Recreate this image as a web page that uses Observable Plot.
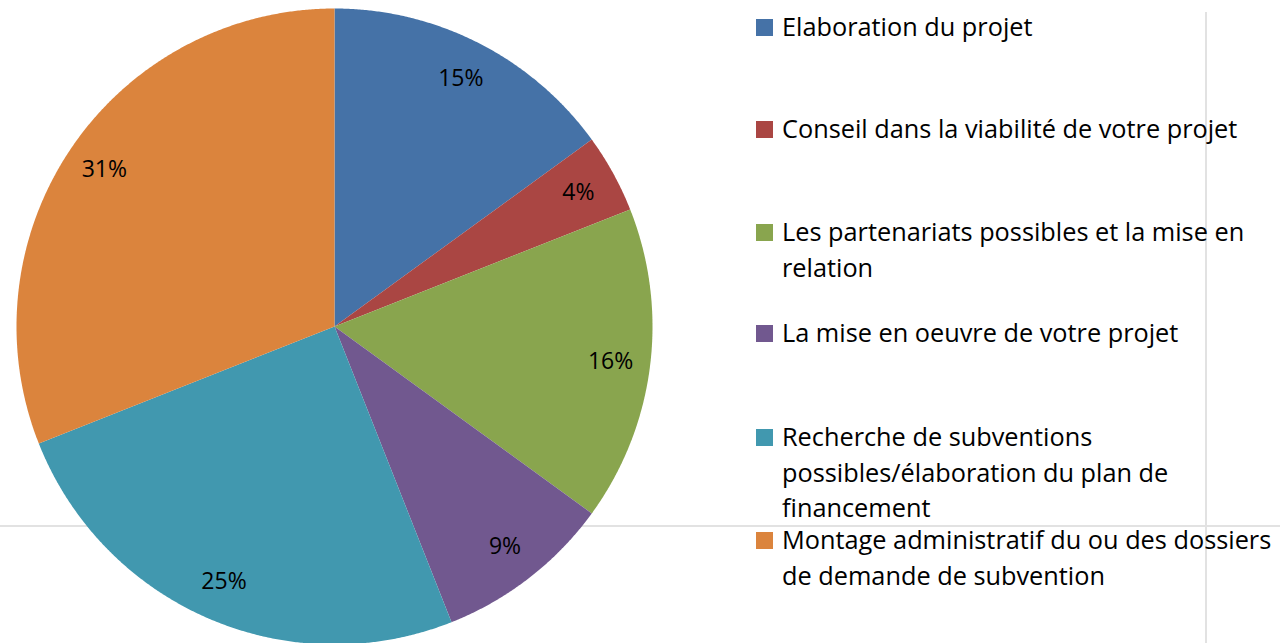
<!DOCTYPE html>
<html>
<head>
<meta charset="utf-8">
<script src="https://cdn.jsdelivr.net/npm/d3@7"></script>
<script src="https://cdn.jsdelivr.net/npm/@observablehq/plot@0.6"></script>
<style>
  html, body { margin: 0; padding: 0; background: #fff; }
  #wrap { position: relative; width: 1280px; height: 643px; overflow: hidden; font-family: "Open Sans", Lato, sans-serif; font-variant-ligatures: none; }
  .hline { position: absolute; left: 0; top: 525px; width: 1280px; height: 2px; background: #e2e2e2; }
  .vline { position: absolute; left: 1205px; top: 12px; width: 2px; height: 640px; background: #e2e2e2; }
  #chart { position: absolute; left: 0; top: 0; }
  .item { position: absolute; left: 756px; }
  .sw { position: absolute; left: 0; width: 17px; height: 17px; }
  .lab { position: absolute; left: 26px; width: 540px; font-size: 25.3px; line-height: 35.5px; color: #000; white-space: nowrap; }
</style>
</head>
<body>
<div id="wrap">
  <div class="hline"></div>
  <div class="vline"></div>
  <div id="chart"></div>
  <div id="legend"></div>
</div>
<script>
const categories = [
  "Elaboration du projet",
  "Conseil dans la viabilité de votre projet",
  "Les partenariats possibles et la mise en relation",
  "La mise en oeuvre de votre projet",
  "Recherche de subventions possibles/élaboration du plan de financement",
  "Montage administratif du ou des dossiers de demande de subvention"
];
const values = [15, 4, 16, 9, 25, 31];
const colors = ["#4572A7", "#AA4643", "#89A54E", "#71588F", "#4198AF", "#DB843D"];
const legendLines = [
  ["Elaboration du projet"],
  ["Conseil dans la viabilité de votre projet"],
  ["Les partenariats possibles et la mise en", "relation"],
  ["La mise en oeuvre de votre projet"],
  ["Recherche de subventions", "possibles/élaboration du plan de", "financement"],
  ["Montage administratif du ou des dossiers", "de demande de subvention"]
];
const legendTops = [27, 129, 232, 333, 437, 540];

// layout
const W = 1280, H = 643, cx = 334, cy = 326, R = 318;

const arcs = d3.pie().sort(null).value(d => d.value)(
  categories.map((c, i) => ({category: c, value: values[i]}))
);

const polyPts = [];
arcs.forEach(a => {
  const n = Math.max(8, Math.ceil((a.endAngle - a.startAngle) / 0.005));
  polyPts.push({category: a.data.category, x: 0, y: 0});
  for (let k = 0; k <= n; k++) {
    const t = a.startAngle + (a.endAngle - a.startAngle) * k / n;
    polyPts.push({category: a.data.category, x: Math.sin(t), y: Math.cos(t)});
  }
});

const labelR = 0.875;
const labels = arcs.map(a => {
  const m = (a.startAngle + a.endAngle) / 2;
  return {x: labelR * Math.sin(m), y: labelR * Math.cos(m), text: a.data.value + "%"};
});

const plot = Plot.plot({
  width: W, height: H,
  margin: 0,
  style: {background: "transparent", overflow: "visible"},
  x: {domain: [-cx / R, (W - cx) / R], range: [0, W], axis: null},
  y: {domain: [cy / R, (cy - H) / R], range: [0, H], axis: null},
  color: {domain: categories, range: colors},
  marks: [
    Plot.line(polyPts, {x: "x", y: "y", z: "category", fill: "category", stroke: "none", curve: "linear"}),
    Plot.text(labels, {x: "x", y: "y", text: "text", fontSize: 23, fill: "#000", fontFamily: "'Open Sans', Lato, sans-serif"})
  ]
});
document.getElementById("chart").appendChild(plot);

const leg = document.getElementById("legend");
categories.forEach((c, i) => {
  const item = document.createElement("div");
  item.className = "item";
  item.style.top = legendTops[i] + "px";
  const sw = document.createElement("div");
  sw.className = "sw";
  sw.style.background = colors[i];
  sw.style.top = "-8.5px";
  item.appendChild(sw);
  const lab = document.createElement("div");
  lab.className = "lab";
  lab.style.top = "-17.75px";
  lab.innerHTML = legendLines[i].join("<br>");
  item.appendChild(lab);
  leg.appendChild(item);
});
</script>
</body>
</html>
